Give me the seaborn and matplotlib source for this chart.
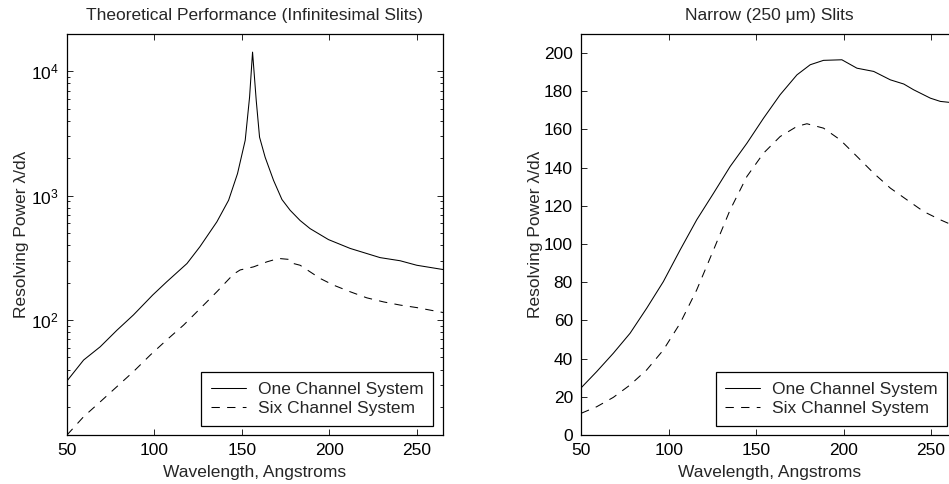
import matplotlib
matplotlib.use("Agg")
import matplotlib.pyplot as plt
import seaborn as sns
import pandas as pd
import numpy as np

# ---- data ----
left_one_x = [50, 59.5, 69, 78.6, 88, 99, 107, 118.6, 126, 135.7, 142.4, 147.5, 151.9, 154.4, 156.1,
              158.2, 160.1, 163.3, 168.1, 172.9, 177.6, 183.3, 189, 199.5, 211.9, 229, 240.5, 250, 265]
left_one_y = [32.4, 47.7, 61, 83, 110, 159, 203, 285, 389, 617, 920, 1507, 2793, 6220, 14300,
              5850, 2960, 2040, 1330, 933, 764, 632, 544, 444, 377, 318, 300, 276, 255]
left_six_x = [50, 59.5, 69, 78.6, 88, 97.6, 107, 116.7, 126.2, 135.7, 145.2, 149, 156.7, 164.3, 171,
              177.6, 179.5, 183.3, 194.8, 202.4, 211.9, 221.4, 231, 240.5, 250, 265]
left_six_y = [11.9, 16.7, 22, 29.2, 38.5, 52.3, 69.2, 91.2, 124, 169, 234, 253, 268, 294, 313,
              307, 285, 276, 216, 191, 169, 151, 140, 132, 126, 115]

right_one_x = [50, 58.8, 68.3, 77.9, 87.4, 96.9, 106.5, 116, 125.6, 135.1, 144.7, 154.2, 163.7, 173.3,
               180.9, 188.5, 199, 207.6, 217.2, 226.7, 234.4, 240, 249.6, 255.3, 260.5, 265]
right_one_y = [24.8, 33.2, 42.8, 53.3, 66.4, 80.3, 96.9, 112.7, 126.6, 140.6, 152.8, 165.9, 178.2, 188.6,
               193.9, 196.2, 196.5, 192.1, 190.4, 186, 183.8, 180.8, 176.4, 174.7, 174.2, 173.5]
right_six_x = [50, 58.8, 68.3, 77.9, 87.4, 96.9, 106.5, 116, 125.6, 135.1, 144.7, 154.2, 163.7, 173.3,
               179, 188.5, 198, 207.6, 217.2, 226.7, 236.3, 245.8, 255.3, 260.5, 265]
right_six_y = [11.4, 14.8, 19.7, 26.2, 34.1, 44.5, 58.5, 76, 96.9, 117.9, 135.4, 147.6, 156.3, 161.6,
               163, 160.7, 154.6, 145.9, 137.1, 129.3, 123.1, 117, 112.7, 110.6, 109]

series_names = ["One Channel System", "Six Channel System"]
titles = ["Theoretical Performance (Infinitesimal Slits)", "Narrow (250 \u03bcm) Slits"]
xlabel = "Wavelength, Angstroms"
ylabel = "Resolving Power \u03bb/d\u03bb"

sns.set_style("ticks")
plt.rcParams["font.family"] = ["Liberation Sans", "DejaVu Sans"]
plt.rcParams["mathtext.fontset"] = "custom"
plt.rcParams["mathtext.rm"] = "Liberation Sans"
plt.rcParams["mathtext.it"] = "Liberation Sans:italic"
FS = 12.5

fig = plt.figure(figsize=(9.49, 4.84), dpi=100)
axL = fig.add_axes([67/949, 49/484, 376/949, 401/484])
axR = fig.add_axes([581.3/949, 49/484, 376/949, 401/484])

def frame(x1, y1, x2, y2):
    d1 = pd.DataFrame({"x": x1, "y": y1, "s": series_names[0]})
    d2 = pd.DataFrame({"x": x2, "y": y2, "s": series_names[1]})
    return pd.concat([d1, d2], ignore_index=True)

dfL = frame(left_one_x, left_one_y, left_six_x, left_six_y)
dfR = frame(right_one_x, right_one_y, right_six_x, right_six_y)

for ax, df, title in [(axL, dfL, titles[0]), (axR, dfR, titles[1])]:
    sns.lineplot(data=df, x="x", y="y", hue="s", style="s",
                 palette=["black", "black"],
                 dashes={series_names[0]: "", series_names[1]: (8, 7)},
                 linewidth=0.75, ax=ax, legend=True, sort=False)
    ax.set_xlim(50, 265)
    ax.set_xticks([50, 100, 150, 200, 250])
    ax.set_title(title, fontsize=FS, pad=10)
    ax.set_xlabel(xlabel, fontsize=FS, labelpad=5)
    ax.set_ylabel(ylabel, fontsize=FS, labelpad=1)
    for sp in ax.spines.values():
        sp.set_linewidth(0.9)
        sp.set_color("black")
    ax.tick_params(which="both", direction="in", top=True, right=True, colors="black",
                   labelsize=FS, width=0.6)
    ax.tick_params(which="major", length=4, pad=6)
    ax.tick_params(which="minor", length=2.5)
    handles, labels = ax.get_legend_handles_labels()
    leg = ax.legend(handles, labels, loc="lower right", bbox_to_anchor=(0.973, 0.0224),
                    borderaxespad=0, fontsize=FS, frameon=True, fancybox=False,
                    edgecolor="black", framealpha=1, handlelength=2.0, handletextpad=0.7,
                    labelspacing=0.25, borderpad=0.55)
    leg.get_frame().set_linewidth(0.9)

axL.set_yscale("log")
axL.set_ylim(11.9, 20000)
axL.set_yticks([100, 1000, 10000])
axR.set_ylim(0, 210)
axR.set_yticks(np.arange(0, 201, 20))

fig.savefig("out.png", dpi=100)
